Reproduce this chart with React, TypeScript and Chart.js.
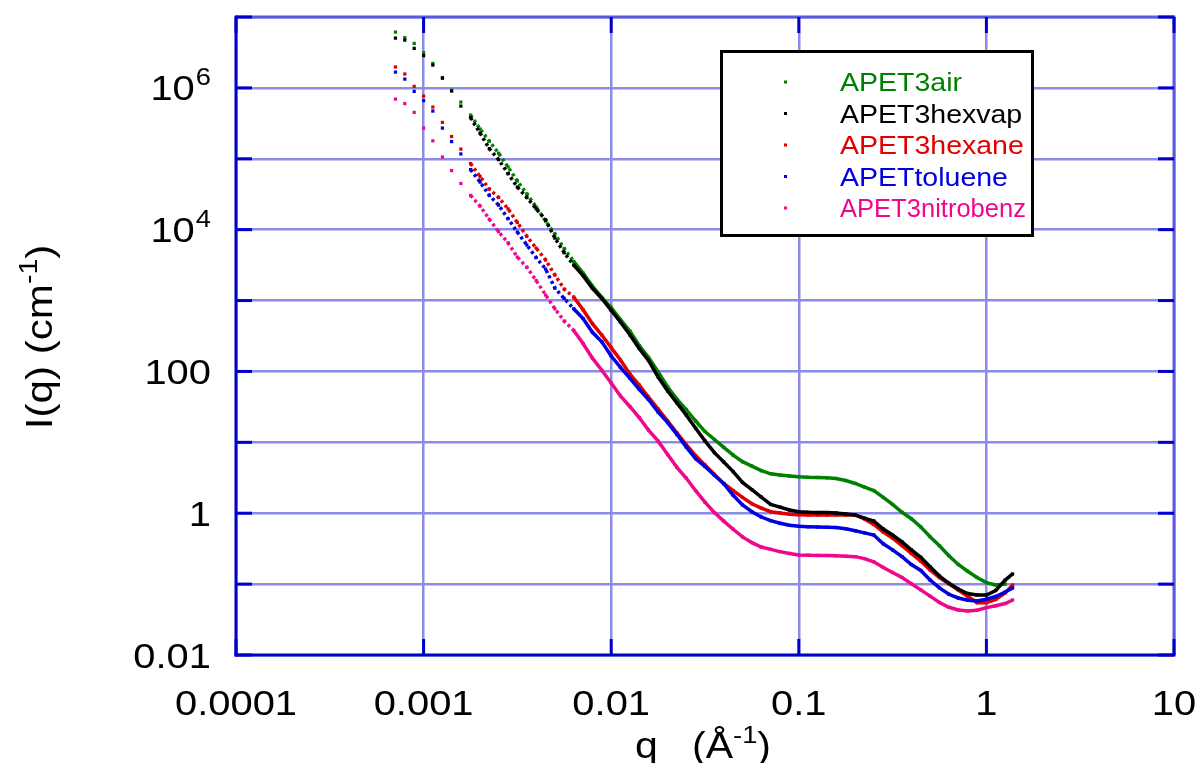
import React, { useEffect, useRef } from 'react';
import { Chart, registerables } from 'chart.js';

Chart.register(...registerables);

// q values (Å^-1) shared by all series
const Q = [
  7.08e-4, 7.94e-4, 8.91e-4, 1.0e-3, 1.12e-3, 1.26e-3, 1.41e-3, 1.58e-3, 1.78e-3, 2.0e-3,
  2.24e-3, 2.51e-3, 2.82e-3, 3.16e-3, 3.55e-3, 3.98e-3, 4.47e-3, 5.01e-3, 5.62e-3, 6.31e-3,
  7.08e-3, 7.94e-3, 8.91e-3, 0.01, 0.0112, 0.0126, 0.0141, 0.0158, 0.0178, 0.02,
  0.0224, 0.0251, 0.0282, 0.0316, 0.0355, 0.0398, 0.0447, 0.0501, 0.0562, 0.0631,
  0.0708, 0.0794, 0.0891, 0.1, 0.112, 0.126, 0.141, 0.158, 0.178, 0.2,
  0.224, 0.251, 0.282, 0.316, 0.355, 0.398, 0.447, 0.501, 0.562, 0.631,
  0.708, 0.794, 0.891, 1.0, 1.12, 1.26, 1.38,
];

const APET3air = [
  6.12e6, 5.12e6, 4.24e6, 3.14e6, 2.21e6, 1.40e6, 9.28e5, 6.31e5, 4.13e5, 2.63e5,
  1.77e5, 1.20e5, 7.66e4, 4.85e4, 3.20e4, 2.10e4, 1.32e4, 8.67e3, 5.41e3, 3.56e3,
  2.44e3, 1.60e3, 1.11e3, 792, 541, 368, 232, 158, 98.1, 60.3,
  40.8, 29.0, 20.0, 14.2, 10.96, 8.51, 6.60, 5.33, 4.62, 3.99,
  3.60, 3.46, 3.35, 3.26, 3.21, 3.19, 3.16, 3.09, 2.89, 2.63,
  2.34, 2.09, 1.67, 1.33, 1.03, 0.837, 0.639, 0.466, 0.347, 0.252,
  0.189, 0.152, 0.124, 0.105, 0.0972, 0.100, null,
];

const APET3hexvap = [
  5.04e6, 4.72e6, 3.61e6, 2.85e6, 2.10e6, 1.37e6, 9.01e5, 5.54e5, 3.81e5, 2.30e5,
  1.39e5, 9.74e4, 6.18e4, 3.99e4, 2.84e4, 1.97e4, 1.37e4, 7.61e3, 4.72e3, 3.17e3,
  2.25e3, 1.49e3, 1.07e3, 728, 498, 326, 211, 143, 83.4, 52.9,
  36.1, 24.3, 15.8, 10.5, 7.14, 5.28, 3.86, 2.72, 2.15, 1.69,
  1.33, 1.22, 1.11, 1.05, 1.03, 1.02, 1.02, 1.01, 0.975, 0.944,
  0.851, 0.777, 0.599, 0.493, 0.393, 0.305, 0.239, 0.176, 0.130, 0.103,
  0.0853, 0.0737, 0.0702, 0.0702, 0.0813, 0.114, 0.139,
];

const APET3hexane = [
  1.97e6, 1.57e6, 1.05e6, 7.66e5, 5.36e5, 3.26e5, 2.06e5, 1.37e5, 8.56e4, 5.61e4,
  3.74e4, 2.84e4, 1.97e4, 1.26e4, 8.05e3, 5.50e3, 3.73e3, 2.29e3, 1.45e3, 1.12e3,
  740, 472, 326, 217, 145, 91.3, 64.3, 43.6, 29.5, 20.0,
  13.6, 9.26, 6.49, 4.79, 3.53, 2.63, 2.08, 1.67, 1.36, 1.18,
  1.05, 1.01, 0.969, 0.953, 0.944, 0.944, 0.944, 0.944, 0.944, 0.944,
  0.829, 0.696, 0.543, 0.447, 0.349, 0.271, 0.211, 0.158, 0.124, 0.101,
  0.0826, 0.0673, 0.0547, 0.0547, 0.0607, 0.0749, 0.0972,
];

const APETtoluene = [
  1.67e6, 1.33e6, 8.93e5, 6.62e5, 4.71e5, 2.71e5, 1.75e5, 1.17e5, 7.04e4, 4.69e4,
  3.05e4, 2.22e4, 1.43e4, 9.25e3, 6.07e3, 4.04e3, 2.78e3, 1.50e3, 1.07e3, 766,
  557, 357, 262, 165, 114, 79.9, 55.9, 40.2, 26.6, 19.0,
  12.9, 8.62, 5.87, 4.56, 3.43, 2.61, 1.79, 1.31, 1.05, 0.884,
  0.787, 0.721, 0.675, 0.654, 0.645, 0.639, 0.633, 0.627, 0.603, 0.567,
  0.528, 0.493, 0.370, 0.304, 0.244, 0.189, 0.156, 0.114, 0.0884, 0.0718,
  0.0637, 0.0591, 0.0578, 0.0611, 0.0669, 0.0774, 0.0882,
];

const APET3nitrobenz = [
  6.95e5, 6.01e5, 4.51e5, 2.71e5, 1.79e5, 1.06e5, 6.82e4, 4.48e4, 3.04e4, 2.15e4,
  1.40e4, 9.37e3, 6.51e3, 4.11e3, 2.94e3, 1.92e3, 1.20e3, 764, 514, 379,
  248, 154, 104, 68.6, 45.0, 31.8, 22.4, 14.9, 10.4, 6.71,
  4.44, 3.14, 2.08, 1.43, 1.02, 0.774, 0.595, 0.463, 0.385, 0.334,
  0.309, 0.287, 0.271, 0.257, 0.256, 0.254, 0.253, 0.251, 0.248, 0.244,
  0.229, 0.206, 0.172, 0.146, 0.124, 0.101, 0.0829, 0.0676, 0.0550, 0.0471,
  0.0432, 0.0418, 0.0429, 0.0466, 0.0494, 0.0533, 0.0597,
];

const SERIES_NAMES = ['APET3air', 'APET3hexvap', 'APET3hexane', 'APETtoluene', 'APET3nitrobenz'];
const SERIES_VALUES = [APET3air, APET3hexvap, APET3hexane, APETtoluene, APET3nitrobenz];
const SERIES_COLORS = ['#008000', '#000000', '#e00000', '#0000e0', '#f0088c'];
const SERIES_ORDER = [5, 1, 4, 3, 2];

const X_TICKS = [1e-4, 1e-3, 0.01, 0.1, 1, 10];
const X_LABELS = ['0.0001', '0.001', '0.01', '0.1', '1', '10'];
const Y_TICKS = [0.01, 0.1, 1, 10, 100, 1e3, 1e4, 1e5, 1e6, 1e7];
const Y_LABEL_VALUES = [0.01, 1, 100, 1e4, 1e6];
const Y_LABEL_BASE = ['0.01', '1', '100', '10', '10'];
const Y_LABEL_SUP = ['', '', '', '4', '6'];

const FONT = "'Liberation Sans', Arial, sans-serif";
const SX = 1.14;
const AXIS_COLOR = '#0000cc';
const FRAME_COLOR = '#5a5ae0';
const GRID_COLOR = '#8c8ce8';

function drawText(ctx: CanvasRenderingContext2D, text: string, x: number, y: number, size: number, align: CanvasTextAlign, color: string, maxW?: number) {
  ctx.save();
  ctx.translate(x, y);
  ctx.scale(SX, 1);
  ctx.font = `${size}px ${FONT}`;
  ctx.textAlign = align;
  ctx.textBaseline = 'alphabetic';
  ctx.fillStyle = color;
  if (maxW) ctx.fillText(text, 0, 0, maxW / SX);
  else ctx.fillText(text, 0, 0);
  ctx.restore();
}

function textW(ctx: CanvasRenderingContext2D, text: string, size: number) {
  ctx.save();
  ctx.font = `${size}px ${FONT}`;
  const w = ctx.measureText(text).width * SX;
  ctx.restore();
  return w;
}

const decorPlugin = {
  id: 'decor',
  afterDraw(chart: any) {
    const ctx: CanvasRenderingContext2D = chart.ctx;
    const xs = chart.scales.x;
    const ys = chart.scales.y;
    const { left, right, top, bottom } = chart.chartArea;
    const line = (x1: number, y1: number, x2: number, y2: number) => {
      ctx.beginPath();
      ctx.moveTo(x1, y1);
      ctx.lineTo(x2, y2);
      ctx.stroke();
    };
    ctx.save();
    ctx.lineCap = 'butt';
    ctx.lineWidth = 3;
    // frame
    ctx.strokeStyle = FRAME_COLOR;
    line(left, top, right + 1.5, top);
    line(right, top, right, bottom);
    ctx.strokeStyle = AXIS_COLOR;
    line(left - 1.5, bottom, right + 1.5, bottom);
    line(left, top - 1.5, left, bottom + 1.5);
    // ticks
    X_TICKS.forEach((v) => {
      const px = xs.getPixelForValue(v);
      line(px, bottom, px, bottom - 16);
      line(px, top, px, top + 16);
    });
    Y_TICKS.forEach((v) => {
      const py = ys.getPixelForValue(v);
      line(left, py, left + 16, py);
      line(right, py, right - 16, py);
    });
    ctx.restore();

    // x tick labels
    X_TICKS.forEach((v, i) => {
      drawText(ctx, X_LABELS[i], xs.getPixelForValue(v), 715, 35, 'center', '#000');
    });
    // y tick labels
    const yRight = 211;
    Y_LABEL_VALUES.forEach((v, i) => {
      const py = ys.getPixelForValue(v);
      const base = py + 12.5;
      if (Y_LABEL_SUP[i]) {
        const sw = textW(ctx, Y_LABEL_SUP[i], 24);
        drawText(ctx, Y_LABEL_SUP[i], yRight, base - 15, 24, 'right', '#000');
        drawText(ctx, Y_LABEL_BASE[i], yRight - sw - 1, base, 35, 'right', '#000');
      } else {
        drawText(ctx, Y_LABEL_BASE[i], yRight, base, 35, 'right', '#000');
      }
    });

    // y title
    {
      const s1 = 'I(q) (cm';
      const s2 = '-1';
      const s3 = ')';
      ctx.save();
      ctx.translate(52, 337);
      ctx.rotate(-Math.PI / 2);
      const w1 = textW(ctx, s1, 37);
      const w2 = textW(ctx, s2, 25);
      const w3 = textW(ctx, s3, 37);
      const x0 = -(w1 + w2 + w3) / 2;
      drawText(ctx, s1, x0, 0, 37, 'left', '#000');
      drawText(ctx, s2, x0 + w1, -15, 25, 'left', '#000');
      drawText(ctx, s3, x0 + w1 + w2, 0, 37, 'left', '#000');
      ctx.restore();
    }
    // x title
    {
      const s1 = 'q   (Å';
      const s2 = '-1';
      const s3 = ')';
      const w1 = textW(ctx, s1, 36);
      const w2 = textW(ctx, s2, 24);
      const w3 = textW(ctx, s3, 36);
      const x0 = 703 - (w1 + w2 + w3) / 2;
      drawText(ctx, s1, x0, 758, 36, 'left', '#000');
      drawText(ctx, s2, x0 + w1, 743, 24, 'left', '#000');
      drawText(ctx, s3, x0 + w1 + w2, 758, 36, 'left', '#000');
    }

    // legend
    ctx.save();
    ctx.fillStyle = '#ffffff';
    ctx.fillRect(721.5, 51.5, 311, 184);
    ctx.strokeStyle = '#000000';
    ctx.lineWidth = 3;
    ctx.strokeRect(721.5, 51.5, 311, 184);
    ctx.restore();
    const rows = [82, 113.5, 145, 176.5, 208];
    SERIES_NAMES.forEach((name, i) => {
      const cy = rows[i];
      ctx.fillStyle = SERIES_COLORS[i];
      ctx.fillRect(784, cy - 1.5, 3, 3);
      drawText(ctx, name, 840, cy + 9, 25, 'left', SERIES_COLORS[i], 186);
    });
  },
};

export default function App() {
  const ref = useRef<HTMLCanvasElement>(null);
  useEffect(() => {
    document.body.style.margin = '0';
    const datasets = SERIES_NAMES.map((name, i) => ({
      label: name,
      data: Q.map((q, j) => ({ x: q, y: SERIES_VALUES[i][j] })),
      showLine: true,
      borderColor: SERIES_COLORS[i],
      backgroundColor: SERIES_COLORS[i],
      borderWidth: 3.5,
      pointStyle: 'rect',
      pointRadius: 2.3,
      pointBorderWidth: 0,
      pointBackgroundColor: SERIES_COLORS[i],
      order: SERIES_ORDER[i],
      segment: {
        borderColor: (c: any) => (c.p0.parsed.x < 0.0017 ? 'rgba(0,0,0,0)' : undefined),
        borderDash: (c: any) => (c.p0.parsed.x < 0.006 ? [3, 3] : undefined),
      },
    }));
    const chart = new Chart(ref.current as HTMLCanvasElement, {
      type: 'scatter',
      data: { datasets } as any,
      options: {
        animation: false,
        responsive: false,
        maintainAspectRatio: false,
        layout: { padding: { left: 236, top: 17, right: 25, bottom: 108 } },
        plugins: { legend: { display: false }, tooltip: { enabled: false } },
        scales: {
          x: {
            type: 'logarithmic',
            min: 1e-4,
            max: 10,
            afterBuildTicks: (s: any) => {
              s.ticks = X_TICKS.map((v) => ({ value: v }));
            },
            afterFit: (s: any) => {
              s.height = 0;
            },
            ticks: { display: false },
            grid: { color: GRID_COLOR, lineWidth: 2.5, drawTicks: false },
            border: { display: false },
          },
          y: {
            type: 'logarithmic',
            min: 0.01,
            max: 1e7,
            afterBuildTicks: (s: any) => {
              s.ticks = Y_TICKS.map((v) => ({ value: v }));
            },
            afterFit: (s: any) => {
              s.width = 0;
            },
            ticks: { display: false },
            grid: { color: GRID_COLOR, lineWidth: 2.5, drawTicks: false },
            border: { display: false },
          },
        },
      } as any,
      plugins: [decorPlugin],
    });
    return () => chart.destroy();
  }, []);
  return (
    <div style={{ width: 1199, height: 763, background: '#ffffff' }}>
      <canvas ref={ref} width={1199} height={763} style={{ display: 'block' }} />
    </div>
  );
}
